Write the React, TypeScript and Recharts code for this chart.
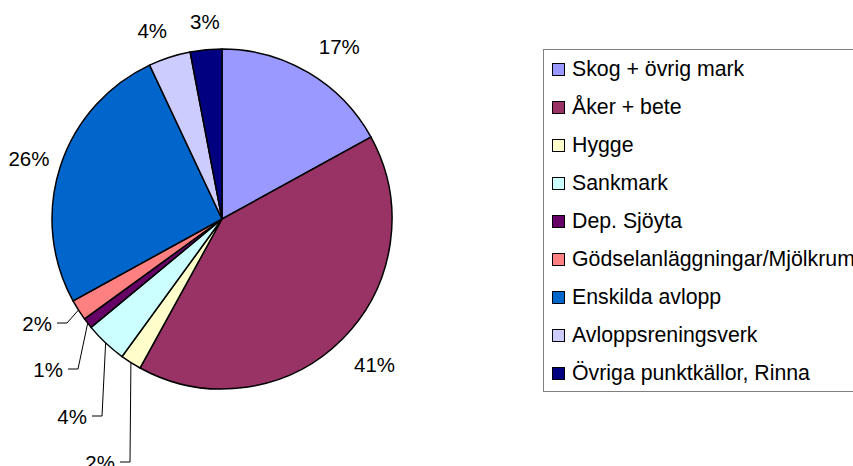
import React from 'react';
import { PieChart, Pie, Cell, Legend } from 'recharts';

const categories = [
  'Skog + övrig mark',
  'Åker + bete',
  'Hygge',
  'Sankmark',
  'Dep. Sjöyta',
  'Gödselanläggningar/Mjölkrum',
  'Enskilda avlopp',
  'Avloppsreningsverk',
  'Övriga punktkällor, Rinna',
];
const shares = [17, 41, 2, 4, 1, 2, 26, 4, 3];
const colors = ['#9999FF', '#993366', '#FFFFCC', '#CCFFFF', '#660066', '#FF8080', '#0066CC', '#CCCCFF', '#000080'];

const data = categories.map((name, i) => ({ name, value: shares[i] }));

const FONT = '"Liberation Sans", Arial, sans-serif';

// label layout tweaks (style only)
const labelNudge: [number, number][] = [[14, 2], [9, 2], [0, 0], [0, 0], [0, 0], [0, 0], [0, 2], [-7, 5], [2, 5]];
const callout: ({ dx: number; dy: number } | null)[] = [
  null, null,
  { dx: -107, dy: 243 },
  { dx: -135, dy: 197 },
  { dx: -159, dy: 150 },
  { dx: -170, dy: 104 },
  null, null, null,
];

const renderLabel = (p: any) => {
  const { cx, cy, midAngle, outerRadius, percent, index } = p;
  const rad = Math.PI / 180;
  const cos = Math.cos(-midAngle * rad);
  const sin = Math.sin(-midAngle * rad);
  const txt = `${Math.round(percent * 100)}%`;
  const c = callout[index];
  if (c) {
    const tx = cx + c.dx;
    const ty = cy + c.dy;
    const ex = cx + outerRadius * cos;
    const ey = cy + outerRadius * sin;
    return (
      <g key={`l${index}`}>
        <polyline points={`${tx + 5},${ty} ${tx + 15},${ty} ${ex},${ey}`} stroke="#000" strokeWidth={1} fill="none" />
        <text x={tx} y={ty} textAnchor="end" dominantBaseline="central" fontFamily={FONT} fontSize={20.5} fill="#000">
          {txt}
        </text>
      </g>
    );
  }
  const r = outerRadius + 33;
  const [nx, ny] = labelNudge[index];
  return (
    <text
      key={`l${index}`}
      x={cx + r * cos + nx}
      y={cy + r * sin + ny}
      textAnchor="middle"
      dominantBaseline="central"
      fontFamily={FONT}
      fontSize={20.5}
      fill="#000"
    >
      {txt}
    </text>
  );
};

const renderLegend = () => {
  return (
    <div
      style={{
        border: '1px solid #808080',
        boxSizing: 'border-box',
        width: 340,
        height: 343,
        background: '#fff',
        fontFamily: FONT,
        fontSize: 21.3,
        color: '#000',
      }}
    >
      {categories.map((name, i) => (
        <div key={name} style={{ height: 38, display: 'flex', alignItems: 'center', whiteSpace: 'nowrap' }}>
          <span
            style={{
              display: 'inline-block',
              width: 13,
              height: 13,
              flex: '0 0 13px',
              boxSizing: 'border-box',
              border: '1.5px solid #000',
              background: colors[i],
              marginLeft: 8,
              marginRight: 7,
            }}
          />
          <span>{name}</span>
        </div>
      ))}
    </div>
  );
};

export default function App() {
  return (
    <div style={{ position: 'absolute', left: 0, top: 0, width: 853, height: 466, overflow: 'hidden', background: '#fff' }}>
      <PieChart width={853} height={466} margin={{ top: 0, right: 0, bottom: 0, left: 0 }}>
        <Pie
          data={data}
          dataKey="value"
          nameKey="name"
          cx={222}
          cy={219}
          outerRadius={170}
          startAngle={90}
          endAngle={-270}
          stroke="#000"
          strokeWidth={1.5}
          label={renderLabel}
          labelLine={false}
          isAnimationActive={false}
        >
          {data.map((d, i) => (
            <Cell key={d.name} fill={colors[i]} stroke="#000" strokeWidth={1.5} />
          ))}
        </Pie>
        <Legend
          content={renderLegend}
          wrapperStyle={{ position: 'absolute', left: 543, top: 49, width: 340, height: 343 }}
        />
      </PieChart>
    </div>
  );
}
